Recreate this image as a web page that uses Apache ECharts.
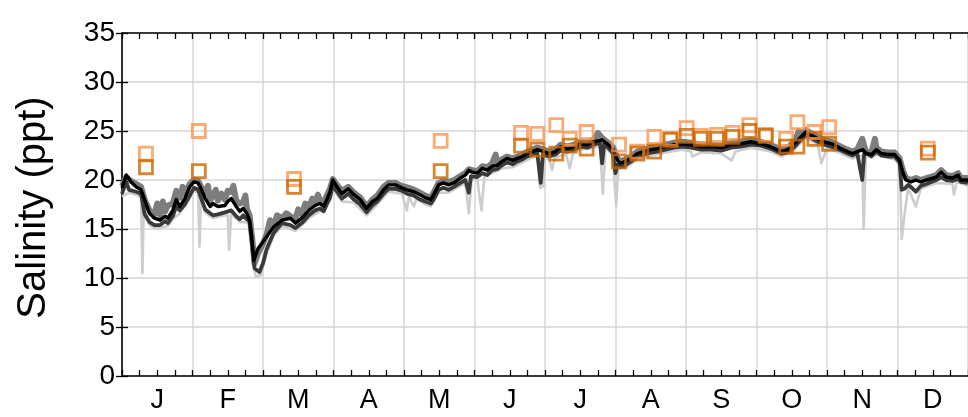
<!DOCTYPE html>
<html>
<head>
<meta charset="utf-8">
<script src="https://cdn.jsdelivr.net/npm/echarts@6/dist/echarts.min.js"></script>
<style>html,body{margin:0;padding:0;background:#fff}#c{width:968px;height:417px}</style>
</head>
<body>
<div id="c"></div>
<script>
// x values are in months from 1 Jan (0..12)
var monthLabels = ['J','F','M','A','M','J','J','A','S','O','N','D'];
var yTicks = [0, 5, 10, 15, 20, 25, 30, 35];

var blackLine = [[0,19.2],[0.06,20.5],[0.13,19.8],[0.2,19.3],[0.27,19.0],[0.32,18.0],[0.39,16.6],[0.46,16.1],[0.54,15.9],[0.61,16.3],[0.65,16.1],[0.72,16.9],[0.77,18.0],[0.82,17.3],[0.89,18.1],[0.96,19.3],[1.02,19.8],[1.08,19.7],[1.13,19.0],[1.18,18.1],[1.25,17.3],[1.29,17.6],[1.36,17.3],[1.46,17.4],[1.5,17.8],[1.55,18.1],[1.62,17.3],[1.67,16.8],[1.72,17.1],[1.77,16.6],[1.81,15.9],[1.84,14.2],[1.87,11.8],[1.93,13.0],[1.98,13.5],[2.05,14.2],[2.15,15.2],[2.27,15.9],[2.39,16.1],[2.46,15.6],[2.55,16.1],[2.65,16.9],[2.74,17.4],[2.81,17.6],[2.86,17.3],[2.91,18.1],[2.95,18.8],[2.99,20.0],[3.05,19.3],[3.12,18.6],[3.21,19.1],[3.29,18.5],[3.38,18.0],[3.47,17.1],[3.55,17.8],[3.62,18.1],[3.71,19.0],[3.78,19.5],[3.88,19.5],[3.97,19.2],[4.04,19.0],[4.14,18.8],[4.23,18.5],[4.3,18.2],[4.38,18.0],[4.42,18.5],[4.49,19.5],[4.56,19.7],[4.63,19.5],[4.71,19.7],[4.8,20.2],[4.87,20.5],[4.92,21.0],[4.97,20.8],[5.04,20.7],[5.11,21.2],[5.18,21.0],[5.25,21.4],[5.32,21.5],[5.39,21.9],[5.46,22.2],[5.54,22.0],[5.61,22.2],[5.68,22.4],[5.75,22.7],[5.82,22.9],[5.89,23.1],[5.98,22.9],[6.06,22.7],[6.15,22.9],[6.22,23.4],[6.32,23.2],[6.41,23.4],[6.5,23.7],[6.6,23.6],[6.69,23.9],[6.81,24.1],[6.88,23.7],[6.96,23.2],[7.03,22.0],[7.07,21.7],[7.14,21.9],[7.22,22.2],[7.31,22.7],[7.4,22.9],[7.5,23.1],[7.59,23.2],[7.71,23.4],[7.83,23.6],[7.95,23.7],[8.07,23.6],[8.21,23.4],[8.35,23.4],[8.5,23.3],[8.64,23.6],[8.78,23.7],[8.92,23.9],[9.06,23.7],[9.2,23.4],[9.35,22.9],[9.44,23.1],[9.54,23.7],[9.63,24.4],[9.7,24.9],[9.77,24.6],[9.87,24.2],[9.96,23.9],[10.06,23.7],[10.1,23.6],[10.2,23.2],[10.29,22.9],[10.36,22.7],[10.43,22.9],[10.51,23.1],[10.55,22.7],[10.63,22.6],[10.7,23.1],[10.77,22.7],[10.86,22.6],[10.96,22.6],[11.03,22.0],[11.08,20.7],[11.12,20.0],[11.19,19.8],[11.26,20.0],[11.33,19.8],[11.41,20.0],[11.55,20.3],[11.62,20.8],[11.69,20.3],[11.78,20.2],[11.86,20.5],[11.9,20.0],[12,20.0]];

var darkLine = [[0,18.6],[0.06,19.8],[0.1,19.0],[0.2,18.8],[0.27,18.6],[0.32,16.5],[0.39,15.7],[0.46,15.4],[0.54,15.4],[0.61,15.8],[0.65,15.6],[0.72,16.3],[0.77,17.3],[0.82,16.9],[0.89,17.5],[0.96,18.4],[1.02,19.2],[1.08,19.0],[1.13,18.0],[1.18,17.0],[1.25,16.6],[1.29,16.4],[1.36,16.5],[1.46,16.7],[1.55,16.9],[1.62,16.3],[1.67,16.0],[1.72,16.4],[1.77,16.0],[1.81,15.8],[1.85,13.0],[1.88,11.0],[1.95,10.6],[2.0,11.5],[2.05,12.9],[2.15,14.6],[2.27,15.6],[2.39,15.4],[2.46,15.1],[2.55,15.6],[2.65,16.4],[2.74,16.9],[2.81,17.1],[2.86,16.8],[2.91,17.6],[2.95,18.2],[2.99,19.4],[3.05,18.8],[3.12,18.1],[3.21,18.6],[3.29,18.0],[3.38,17.5],[3.47,16.7],[3.55,17.4],[3.62,17.8],[3.71,18.6],[3.78,19.1],[3.88,19.1],[3.97,18.9],[4.04,18.6],[4.14,18.4],[4.23,18.0],[4.3,17.8],[4.38,17.6],[4.42,18.0],[4.49,19.0],[4.56,19.2],[4.63,19.0],[4.71,19.3],[4.8,19.7],[4.87,20.0],[4.92,18.7],[4.95,20.4],[5.04,20.3],[5.11,20.7],[5.18,20.5],[5.25,21.0],[5.32,21.1],[5.39,21.5],[5.46,21.8],[5.54,21.6],[5.61,21.9],[5.68,22.1],[5.75,22.4],[5.82,22.6],[5.89,22.8],[5.94,19.7],[5.97,22.6],[6.06,22.4],[6.15,22.6],[6.22,23.0],[6.32,22.9],[6.41,23.1],[6.5,23.4],[6.6,23.3],[6.69,23.6],[6.78,23.8],[6.81,21.7],[6.84,23.7],[6.88,23.4],[6.96,22.8],[7.0,20.7],[7.03,21.6],[7.07,21.3],[7.14,21.5],[7.22,21.9],[7.31,22.4],[7.4,22.6],[7.5,22.8],[7.59,22.9],[7.71,23.1],[7.83,23.3],[7.95,23.4],[8.07,23.3],[8.21,23.1],[8.35,23.1],[8.5,23.0],[8.64,23.3],[8.78,23.4],[8.92,23.6],[9.06,23.5],[9.2,23.2],[9.35,22.7],[9.44,22.8],[9.54,23.4],[9.63,24.1],[9.7,24.6],[9.77,24.3],[9.87,23.9],[9.96,23.6],[10.06,23.4],[10.2,23.0],[10.29,22.7],[10.36,22.5],[10.43,22.7],[10.5,20.0],[10.53,22.9],[10.63,22.4],[10.7,22.9],[10.77,22.5],[10.86,22.4],[10.96,22.4],[11.03,21.8],[11.06,19.0],[11.1,19.1],[11.15,19.5],[11.19,19.3],[11.26,18.8],[11.33,19.4],[11.41,19.6],[11.55,20.0],[11.62,20.3],[11.69,20.0],[11.78,19.9],[11.86,20.1],[11.9,19.8],[12,19.7]];

var grayBand = [[0,19.4],[0.06,20.3],[0.13,19.9],[0.2,19.6],[0.27,19.3],[0.32,18.0],[0.39,16.9],[0.46,16.5],[0.5,17.6],[0.54,16.4],[0.58,17.8],[0.61,16.8],[0.65,17.4],[0.72,17.6],[0.77,18.9],[0.82,18.2],[0.86,19.3],[0.89,18.6],[0.96,19.6],[1.02,20.0],[1.08,19.9],[1.13,19.2],[1.18,18.6],[1.22,19.4],[1.25,17.9],[1.29,18.4],[1.33,19.0],[1.36,17.9],[1.41,18.6],[1.46,18.0],[1.5,18.9],[1.55,18.8],[1.58,19.4],[1.62,17.9],[1.67,17.6],[1.72,17.8],[1.75,18.4],[1.77,17.1],[1.81,16.4],[1.85,13.8],[1.88,11.5],[1.93,12.5],[2.0,13.5],[2.05,14.4],[2.1,15.9],[2.15,15.3],[2.2,16.4],[2.27,16.1],[2.33,16.6],[2.39,16.3],[2.46,16.0],[2.5,17.0],[2.55,16.5],[2.6,17.6],[2.65,17.2],[2.7,18.1],[2.74,17.7],[2.78,18.5],[2.81,17.9],[2.86,17.7],[2.91,18.5],[2.95,19.1],[2.99,20.1],[3.05,19.5],[3.12,18.9],[3.21,19.3],[3.29,18.7],[3.38,18.2],[3.47,17.3],[3.55,18.0],[3.62,18.4],[3.71,19.3],[3.78,19.7],[3.88,19.7],[3.97,19.4],[4.07,19.2],[4.14,19.0],[4.23,18.7],[4.3,18.4],[4.38,18.2],[4.42,18.7],[4.49,19.7],[4.56,19.9],[4.63,19.8],[4.71,20.0],[4.8,20.4],[4.87,20.7],[4.92,21.1],[4.97,21.0],[5.04,20.9],[5.11,21.4],[5.18,21.3],[5.25,21.7],[5.3,22.6],[5.32,21.8],[5.39,22.1],[5.46,22.4],[5.54,22.2],[5.61,22.4],[5.68,22.6],[5.75,22.9],[5.82,23.1],[5.89,23.3],[5.98,23.1],[6.06,22.9],[6.15,23.1],[6.22,23.6],[6.32,23.4],[6.41,23.6],[6.5,23.9],[6.6,23.8],[6.69,24.1],[6.75,24.8],[6.81,24.3],[6.88,23.9],[6.96,23.4],[7.03,22.2],[7.07,21.9],[7.14,22.1],[7.22,22.4],[7.31,22.9],[7.4,23.1],[7.5,23.3],[7.59,23.4],[7.71,23.6],[7.83,23.8],[7.95,23.9],[8.07,23.8],[8.21,23.6],[8.35,23.6],[8.5,23.5],[8.64,23.8],[8.78,23.9],[8.92,24.1],[9.06,23.9],[9.2,23.6],[9.35,23.1],[9.44,23.3],[9.54,23.9],[9.6,25.0],[9.63,24.6],[9.7,25.1],[9.77,24.8],[9.87,24.4],[9.96,24.1],[10.06,23.9],[10.2,23.4],[10.29,23.1],[10.36,22.9],[10.43,23.1],[10.5,24.2],[10.55,22.9],[10.63,22.8],[10.68,24.2],[10.7,23.3],[10.77,22.9],[10.86,22.8],[10.96,22.8],[11.03,22.2],[11.08,20.9],[11.12,20.2],[11.19,20.0],[11.26,20.2],[11.33,20.0],[11.41,20.2],[11.55,20.5],[11.62,21.0],[11.69,20.5],[11.78,20.4],[11.86,20.7],[11.9,20.2],[12,20.2]];

var lightRange = [[0,18.3],[0.1,18.7],[0.2,18.5],[0.27,18.3],[0.29,10.5],[0.31,18.0],[0.39,15.4],[0.46,15.1],[0.54,15.1],[0.65,15.3],[0.72,16.0],[0.82,16.6],[0.96,18.1],[1.02,18.9],[1.08,18.7],[1.1,13.2],[1.12,18.2],[1.18,16.7],[1.29,16.1],[1.46,16.4],[1.5,16.4],[1.52,12.9],[1.55,16.6],[1.67,15.7],[1.77,15.7],[1.81,15.5],[1.86,11.5],[1.9,10.1],[1.97,10.3],[2.05,12.5],[2.15,14.3],[2.27,15.3],[2.46,14.8],[2.65,16.1],[2.81,16.8],[2.95,17.9],[2.99,19.1],[3.12,17.8],[3.29,17.7],[3.47,16.4],[3.62,17.5],[3.78,18.8],[3.97,18.6],[4.04,16.9],[4.07,18.3],[4.14,17.3],[4.18,18.1],[4.3,17.5],[4.38,17.3],[4.49,18.7],[4.63,18.7],[4.8,19.4],[4.87,19.7],[4.92,16.6],[4.96,20.1],[5.04,20.0],[5.1,16.9],[5.14,20.4],[5.25,20.7],[5.39,21.2],[5.54,21.3],[5.68,21.8],[5.82,22.3],[5.89,22.5],[5.93,19.2],[5.98,19.4],[6.0,22.3],[6.06,22.1],[6.1,21.0],[6.14,22.3],[6.3,22.6],[6.35,21.2],[6.4,22.8],[6.5,23.1],[6.69,23.3],[6.78,23.5],[6.82,18.6],[6.86,23.4],[6.96,22.5],[7.01,17.3],[7.04,21.3],[7.14,21.2],[7.31,22.1],[7.5,22.5],[7.71,22.8],[7.95,23.1],[8.07,22.9],[8.09,22.4],[8.21,22.8],[8.5,22.7],[8.65,22.0],[8.7,22.9],[8.92,23.3],[9.2,22.9],[9.35,22.4],[9.54,23.1],[9.7,24.3],[9.87,23.6],[9.92,21.7],[10.0,23.3],[10.2,22.7],[10.36,22.2],[10.5,22.5],[10.52,15.0],[10.55,22.4],[10.7,22.6],[10.96,22.1],[11.03,21.5],[11.06,14.0],[11.1,16.5],[11.15,19.2],[11.26,17.3],[11.33,19.1],[11.55,19.7],[11.78,19.6],[11.8,18.5],[11.84,19.8],[12,19.4]];

var lightSquares = [[0.34,22.7],[1.09,25.0],[2.44,20.1],[4.52,24.0],[5.66,24.8],[5.89,24.7],[6.16,25.6],[6.35,24.2],[6.59,24.9],[7.05,23.6],[7.31,22.9],[7.55,24.4],[7.78,24.2],[8.01,25.3],[8.21,24.5],[8.44,24.6],[8.66,24.8],[8.9,25.6],[9.13,24.6],[9.42,24.2],[9.58,25.9],[9.82,24.9],[10.03,25.4],[11.43,23.2]];
var darkSquares = [[0.34,21.3],[1.09,20.9],[2.44,19.3],[4.52,20.9],[5.66,23.5],[5.89,23.1],[6.16,22.7],[6.35,23.5],[6.59,23.2],[7.05,21.9],[7.31,22.7],[7.55,22.9],[7.78,24.1],[8.01,24.5],[8.21,24.2],[8.44,24.2],[8.66,24.4],[8.9,25.0],[9.13,24.5],[9.42,23.4],[9.58,23.4],[9.82,24.2],[10.03,23.7],[11.43,22.8]];

var FONT = '"Liberation Sans", Arial, sans-serif';
var chart = echarts.init(document.getElementById('c'), null, {renderer: 'canvas'});

function lineSeries(data, color, width, z) {
  return {type: 'line', xAxisIndex: 0, yAxisIndex: 0, data: data, showSymbol: false, symbol: 'none',
    smooth: false, z: z, silent: true,
    lineStyle: {color: color, width: width, join: 'round'}};
}
function sqSeries(data, color) {
  return {type: 'scatter', xAxisIndex: 0, yAxisIndex: 0, data: data, symbol: 'rect', symbolSize: 13, z: 10, silent: true,
    itemStyle: {color: 'rgba(0,0,0,0)', borderColor: color, borderWidth: 2.8}};
}

chart.setOption({
  animation: false,
  backgroundColor: '#fff',
  grid: {left: 122, right: 0, top: 33, bottom: 41, containLabel: false},
  xAxis: [
    {type: 'value', min: 0, max: 12, interval: 1, position: 'bottom',
     axisLine: {show: true, lineStyle: {color: '#000', width: 1.6}},
     axisTick: {show: true, inside: true, length: 6, lineStyle: {color: '#000', width: 1.3}},
     minorTick: {show: true, splitNumber: 4, length: 6, lineStyle: {color: '#000', width: 1.3}},
     axisLabel: {show: false},
     splitLine: {show: true, lineStyle: {color: '#d6d6d6', width: 1.5}}},
    {type: 'category', data: monthLabels, position: 'bottom', boundaryGap: true,
     axisLine: {show: false}, axisTick: {show: false}, splitLine: {show: false},
     axisLabel: {show: true, margin: 11, fontSize: 27, color: '#000', fontFamily: FONT}},
    {type: 'value', min: 0, max: 12, interval: 1, position: 'top',
     axisLine: {show: true, lineStyle: {color: '#000', width: 1.6}},
     axisTick: {show: true, inside: true, length: 6, lineStyle: {color: '#000', width: 1.3}},
     minorTick: {show: true, splitNumber: 4, length: 6, lineStyle: {color: '#000', width: 1.3}},
     axisLabel: {show: false}, splitLine: {show: false}}
  ],
  yAxis: [
    {type: 'value', min: 0, max: 35, interval: 5, position: 'left',
     name: 'Salinity (ppt)', nameLocation: 'middle', nameGap: 68,
     nameTextStyle: {fontSize: 40, color: '#000', fontFamily: FONT, padding: [0, 6, 0, 0]},
     axisLine: {show: true, lineStyle: {color: '#000', width: 1.6}},
     axisTick: {show: true, inside: true, length: 6, lineStyle: {color: '#000', width: 1.3}},
     axisLabel: {show: true, margin: 7, fontSize: 28, color: '#000', fontFamily: FONT,
       formatter: function (v) { return yTicks.indexOf(v) >= 0 ? String(v) : ''; }},
     splitLine: {show: true, lineStyle: {color: '#d6d6d6', width: 1.5}}},
    {type: 'value', min: 0, max: 35, interval: 5, position: 'right',
     axisLine: {show: false},
     axisTick: {show: true, inside: true, length: 6, lineStyle: {color: '#000', width: 1.3}},
     axisLabel: {show: false}, splitLine: {show: false}}
  ],
  series: [
    lineSeries(lightRange, '#cdcdcd', 2.6, 2),
    lineSeries(grayBand, '#7d7d7d', 6, 3),
    lineSeries(darkLine, '#3a3a3a', 3.8, 4),
    lineSeries(blackLine, '#000000', 3.4, 5),
    sqSeries(lightSquares, '#fa9650'),
    sqSeries(darkSquares, '#cc6600')
  ]
});
</script>
</body>
</html>
